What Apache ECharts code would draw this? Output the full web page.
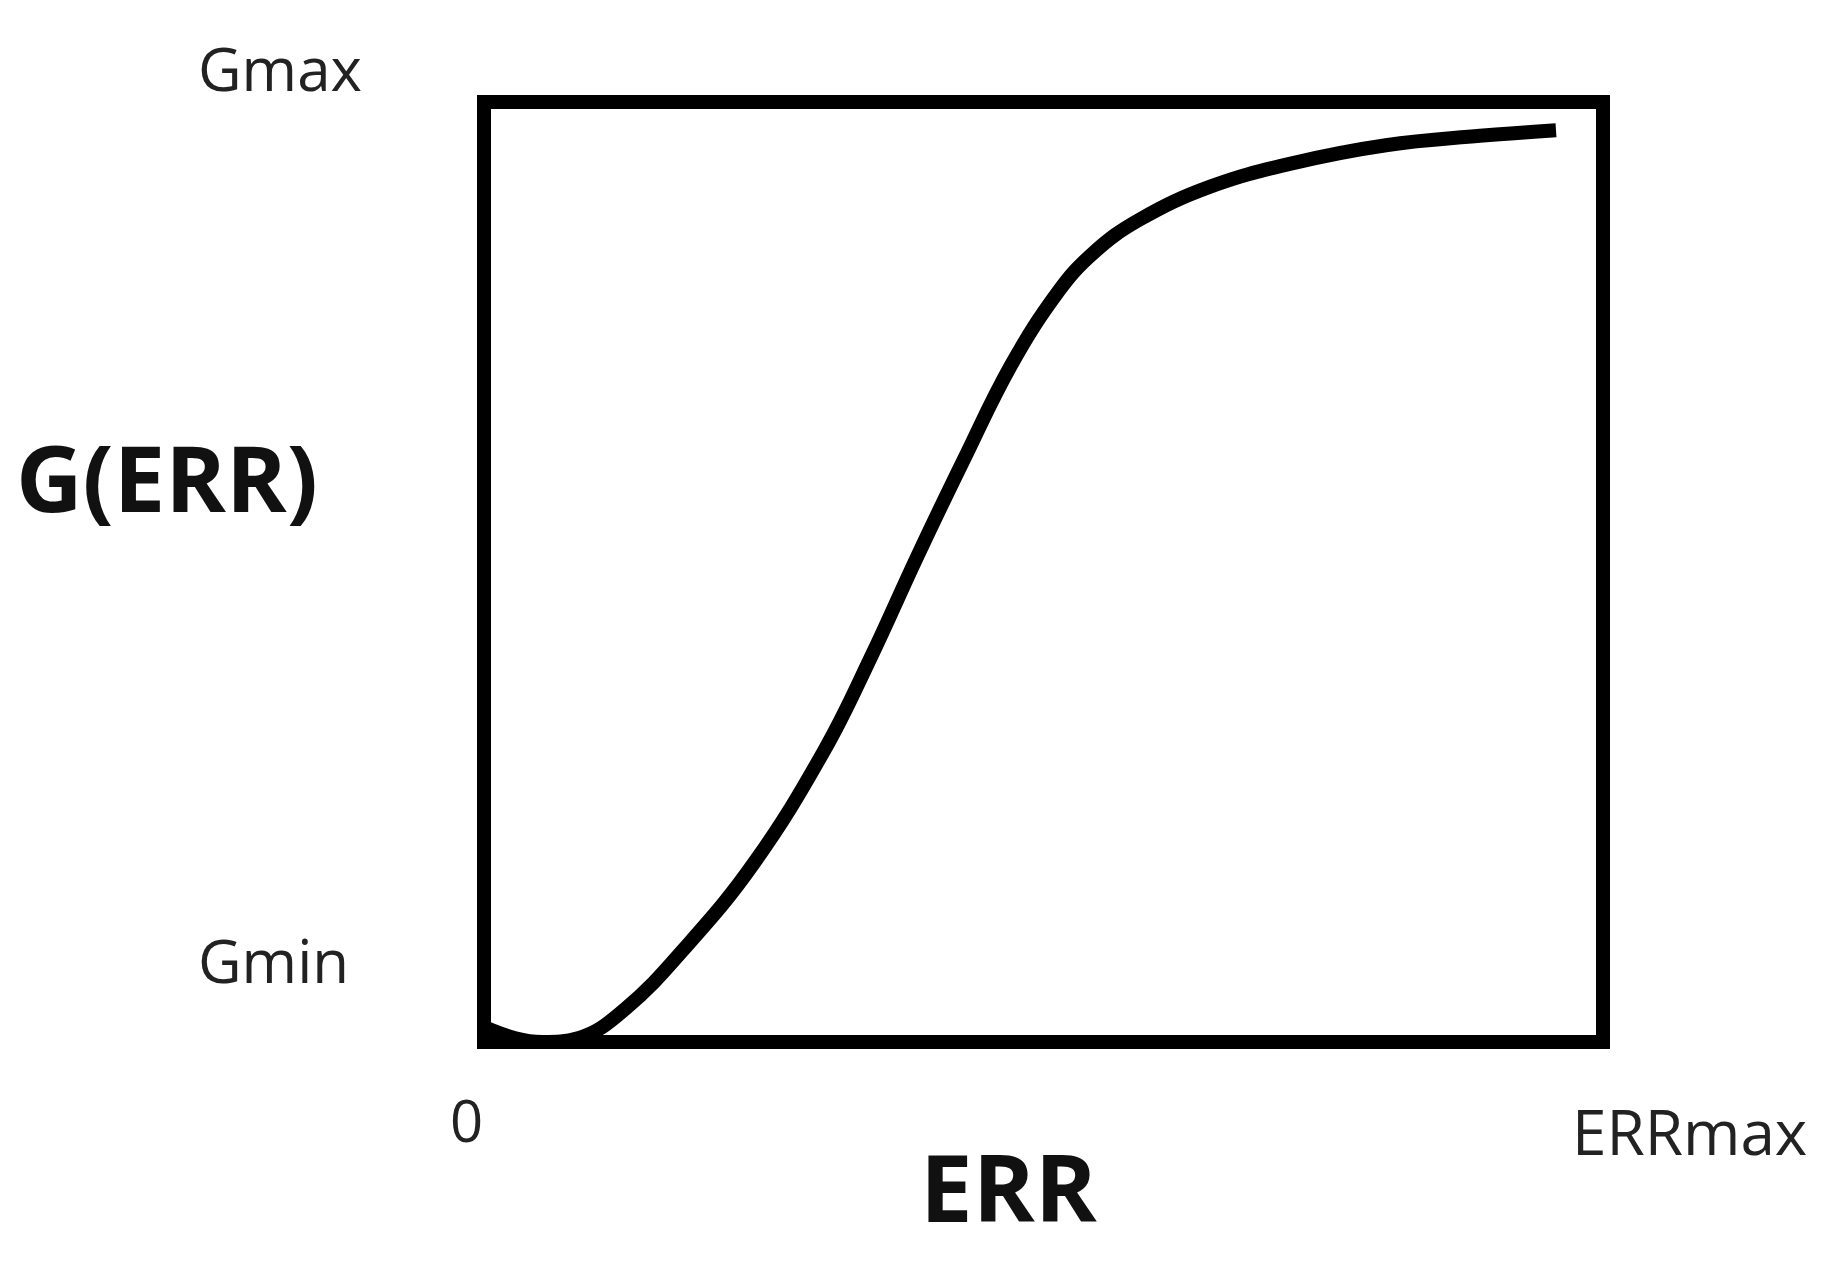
<!DOCTYPE html>
<html>
<head>
<meta charset="utf-8">
<script src="https://cdn.jsdelivr.net/npm/echarts@6/dist/echarts.min.js"></script>
<style>html,body{margin:0;padding:0;background:#fff;}#chart{width:1840px;height:1266px;}</style>
</head>
<body>
<div id="chart"></div>
<script>
// curve, x and y in percent of the box
var errValues = [0, 2.8, 5.2, 8.4, 12.6, 17.8, 24.1, 30.4, 34.6, 38.7, 42.9, 47.1, 51.3, 54.5, 58.6, 64.9, 72.3, 80.6, 89, 95.8];
var gValues = [1.6, 0.4, 0, 0.4, 3.5, 9.8, 19, 31, 41, 51.6, 62, 72, 79.8, 84, 87.5, 91, 93.5, 95.4, 96.4, 97];

var points = [];
for (var i = 0; i < errValues.length; i++) {
    points.push([errValues[i], gValues[i]]);
}

var chart = echarts.init(document.getElementById('chart'));
var font = '"Open Sans", "Noto Sans", sans-serif';
chart.setOption({
    animation: false,
    grid: {
        left: 484, right: 237, top: 102, bottom: 224,
        show: true, borderColor: '#000', borderWidth: 14, backgroundColor: 'transparent'
    },
    xAxis: {type: 'value', min: 0, max: 100, show: false},
    yAxis: {type: 'value', min: 0, max: 100, show: false},
    graphic: [
        {type: 'text', left: 198, top: 44, style: {text: 'Gmax', font: '60px ' + font, fill: '#222'}},
        {type: 'text', left: 198, top: 936, style: {text: 'Gmin', font: '60px ' + font, fill: '#222'}},
        {type: 'text', left: 16, top: 440, style: {text: 'G(ERR)', font: 'bold 92px ' + font, fill: '#111'}},
        {type: 'text', left: 450, top: 1096, style: {text: '0', font: '58px ' + font, fill: '#222'}},
        {type: 'text', left: 1572, top: 1106, style: {text: 'ERRmax', font: '62px ' + font, fill: '#222'}},
        {type: 'text', left: 920, top: 1148, style: {text: 'ERR', font: 'bold 94px ' + font, fill: '#111'}}
    ],
    series: [{
        type: 'line',
        data: points,
        smooth: 0.4,
        symbol: 'none',
        clip: false,
        lineStyle: {color: '#000', width: 14}
    }]
});
</script>
</body>
</html>
